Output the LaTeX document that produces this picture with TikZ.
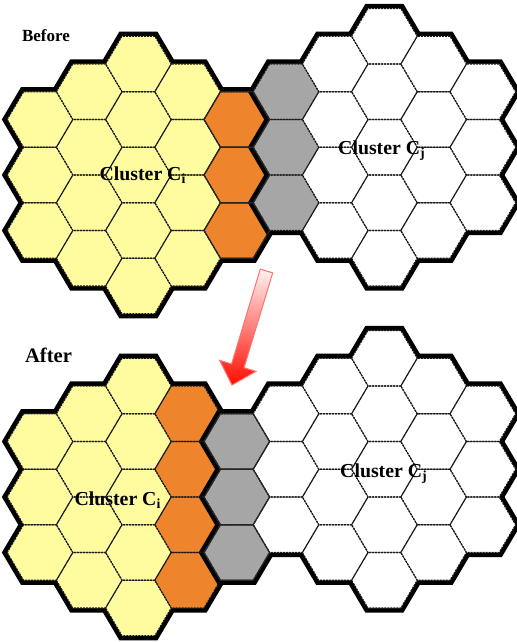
\documentclass[tikz,border=0pt]{standalone}
\usepackage{fontspec}
\setmainfont{Liberation Serif}
\usetikzlibrary{calc}
\definecolor{cellyellow}{RGB}{255,252,160}
\definecolor{cellorange}{RGB}{238,132,44}
\definecolor{cellgray}{RGB}{166,166,166}
\tikzset{
  cellrim/.style={draw=black, line width=4.6pt},
  cellseam/.style={draw=black!90, line width=0.55pt, dash pattern=on 1pt off 0.5pt},
  cellline/.style={draw=black!85, line width=0.55pt},
  paneltitle/.style={anchor=base},
  clusterlabel/.style={font=\fontsize{9.9}{12}\selectfont\bfseries, anchor=base},
  movearrow/.style={draw=red!55, line width=0.5pt, top color=red!5, bottom color=red!90!orange}
}
% one hexagon: column #2, half row #3 of the panel whose middle row is \rowzero
\newcommand{\hexcell}[3]{%
  \path[#1, shift={({40+49.2*(#2)},{\rowzero+27.75*(#3)})}]
    (-32.8,0) -- (-16.4,-27.75) -- (16.4,-27.75) -- (32.8,0) -- (16.4,27.75) -- (-16.4,27.75) -- cycle;}
% rims first, fills over their inner halves
\newcommand{\hexcluster}[1]{%
  \foreach \hx/\hc/\hys in {#1} {\foreach \hy in \hys {\hexcell{cellrim}{\hx}{\hy}}}
  \foreach \hx/\hc/\hys in {#1} {\foreach \hy in \hys {\hexcell{fill=\hc}{\hx}{\hy}}}}
\newcommand{\hexseams}{%
  \foreach \hx/\hys in {0/{-2,0,2}, 1/{-3,-1,1,3}, 2/{-4,-2,0,2,4}, 3/{-3,-1,1,3}, 4/{-2,0,2},
      5/{-3,-1,1}, 6/{-4,-2,0,2}, 7/{-5,-3,-1,1,3}, 8/{-4,-2,0,2}, 9/{-3,-1,1}}
    {\foreach \hy in \hys {\hexcell{cellseam}{\hx}{\hy}}}
  \foreach \hy in {-2,0,2} {\hexcell{cellline}{4}{\hy}}}

\begin{document}
\begin{tikzpicture}[x=0.5pt, y=-0.5pt]
\useasboundingbox (0,0) rectangle (517,642);

% before
\def\rowzero{175}
\hexcluster{0/cellyellow/{-2,0,2}, 1/cellyellow/{-3,-1,1,3}, 2/cellyellow/{-4,-2,0,2,4},
  3/cellyellow/{-3,-1,1,3}, 4/cellorange/{-2,0,2}}
\hexcluster{5/cellgray/{-3,-1,1}, 6/white/{-4,-2,0,2}, 7/white/{-5,-3,-1,1,3},
  8/white/{-4,-2,0,2}, 9/white/{-3,-1,1}}
\hexseams

% after
\def\rowzero{497}
\hexcluster{0/cellyellow/{-2,0,2}, 1/cellyellow/{-3,-1,1,3}, 2/cellyellow/{-4,-2,0,2,4},
  3/cellorange/{-3,-1,1,3}}
\hexcluster{4/cellgray/{-2,0,2}, 5/white/{-3,-1,1}, 6/white/{-4,-2,0,2}, 7/white/{-5,-3,-1,1,3},
  8/white/{-4,-2,0,2}, 9/white/{-3,-1,1}}
\hexseams

\node[paneltitle, font=\fontsize{8.5}{10}\selectfont\bfseries] (titlebefore) at (46,42) {Before};
\node[paneltitle, font=\fontsize{10.3}{12}\selectfont\bfseries] (titleafter) at (48.5,362) {After};
\node[clusterlabel] (cibefore) at (143,180) {Cluster C\textsubscript{i}};
\node[clusterlabel] (cjbefore) at (382,155) {Cluster C\textsubscript{j}};
\node[clusterlabel] (ciafter) at (118,505) {Cluster C\textsubscript{i}};
\node[clusterlabel] (cjafter) at (384,477) {Cluster C\textsubscript{j}};

% hand-over arrow
\coordinate (movetail) at (266.5,271);
\coordinate (movetip) at (232,385);
\coordinate (moveneck) at ($(movetip)!10pt!(movetail)$);
\path[movearrow] ($(movetail)!3.25pt!90:(movetip)$) -- ($(moveneck)!3.25pt!-90:(movetail)$)
  -- ($(moveneck)!9.5pt!-90:(movetail)$) -- (movetip) -- ($(moveneck)!9.5pt!90:(movetail)$)
  -- ($(moveneck)!3.25pt!90:(movetail)$) -- ($(movetail)!3.25pt!-90:(movetip)$) -- cycle;
\end{tikzpicture}
\end{document}
